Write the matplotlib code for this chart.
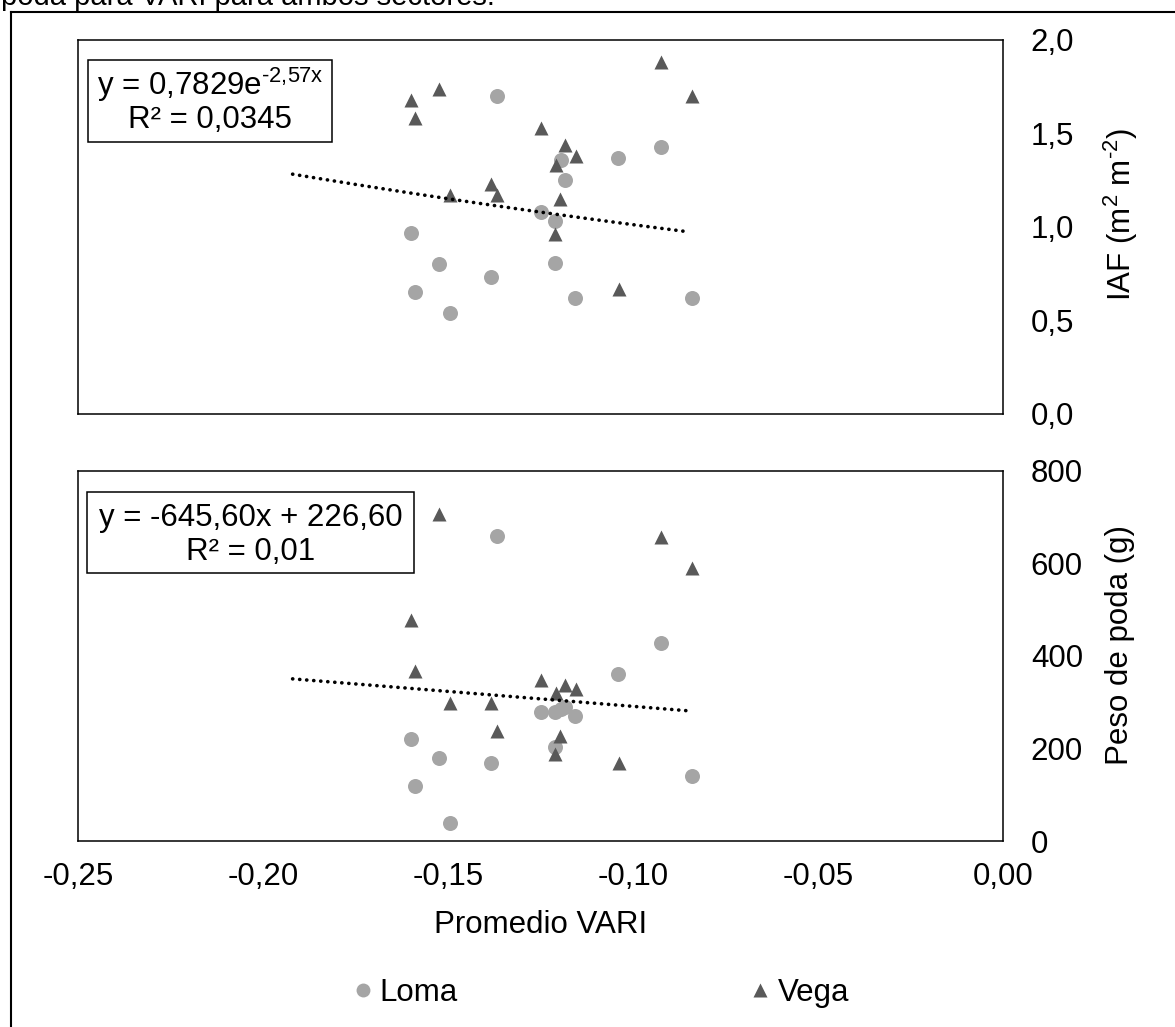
import numpy as np
import matplotlib
matplotlib.use('Agg')
import matplotlib.pyplot as plt
from matplotlib.lines import Line2D
from matplotlib.patches import Rectangle
from matplotlib.ticker import FuncFormatter

plt.rcParams['font.family'] = ['Liberation Sans', 'DejaVu Sans']
plt.rcParams['mathtext.fontset'] = 'custom'
plt.rcParams['mathtext.rm'] = 'Liberation Sans'
plt.rcParams['mathtext.it'] = 'Liberation Sans:italic'
plt.rcParams['mathtext.bf'] = 'Liberation Sans:bold'

# data
loma_vari = [-0.1368, -0.0925, -0.1040, -0.1195, -0.1183, -0.1248, -0.1210, -0.1599,
             -0.1523, -0.1212, -0.1385, -0.1588, -0.1156, -0.0840, -0.1494]
loma_iaf = [1.70, 1.43, 1.37, 1.36, 1.25, 1.08, 1.03, 0.97, 0.80, 0.81, 0.73, 0.65, 0.62, 0.62, 0.54]
loma_poda = [660, 429, 361, 285, 289, 280, 280, 220, 180, 203, 169, 119, 270, 140, 40]

vega_vari = [-0.0925, -0.1523, -0.0840, -0.1599, -0.1588, -0.1248, -0.1183, -0.1154,
             -0.1209, -0.1385, -0.1494, -0.1368, -0.1197, -0.1212, -0.1039]
vega_iaf = [1.88, 1.74, 1.70, 1.68, 1.58, 1.53, 1.44, 1.38, 1.33, 1.23, 1.17, 1.17, 1.15, 0.96, 0.67]
vega_poda = [658, 708, 590, 478, 368, 348, 337, 328, 319, 298, 298, 238, 227, 188, 168]

# trendlines (Excel), drawn over this x range
trend_range = [-0.192, -0.0855]
iaf_a, iaf_b = 0.7829, -2.57        # y = a*exp(b*x)
poda_m, poda_c = -645.60, 226.60    # y = m*x + c

loma_color = '#A5A5A5'
vega_color = '#595959'
fs = 22.5

fig = plt.figure(figsize=(11.75, 10.27), dpi=100)

ax1 = fig.add_axes([0.0664, 0.5969, 0.7872, 0.3642])
ax2 = fig.add_axes([0.0664, 0.1811, 0.7872, 0.3603])

ax1.plot(loma_vari, loma_iaf, 'o', color=loma_color, ms=10.8, mec='none')
ax1.plot(vega_vari, vega_iaf, '^', color=vega_color, ms=10.5, mec='none')
ax2.plot(loma_vari, loma_poda, 'o', color=loma_color, ms=10.8, mec='none')
ax2.plot(vega_vari, vega_poda, '^', color=vega_color, ms=10.5, mec='none')

tx = np.linspace(trend_range[0], trend_range[1], 100)
ax1.plot(tx, iaf_a * np.exp(iaf_b * tx), color='black', lw=2.6,
         linestyle=(0, (0.05, 1.9)), dash_capstyle='round')
ax2.plot(tx, poda_m * tx + poda_c, color='black', lw=2.6,
         linestyle=(0, (0.05, 1.9)), dash_capstyle='round')

for ax in (ax1, ax2):
    ax.set_xlim(-0.25, 0)
    ax.set_xticks([-0.25, -0.20, -0.15, -0.10, -0.05, 0.0])
    ax.yaxis.tick_right()
    ax.tick_params(axis='y', length=0, pad=20, labelsize=fs)
    ax.tick_params(axis='x', length=0, pad=15, labelsize=fs)
    for s in ax.spines.values():
        s.set_linewidth(1.1)
        s.set_color('black')

ax1.set_ylim(0, 2)
ax1.set_yticks([0, 0.5, 1.0, 1.5, 2.0])
ax1.yaxis.set_major_formatter(FuncFormatter(lambda v, p: f'{v:.1f}'.replace('.', ',')))
ax1.tick_params(axis='x', labelbottom=False)

ax2.set_ylim(0, 800)
ax2.set_yticks([0, 200, 400, 600, 800])
ax2.yaxis.set_major_formatter(FuncFormatter(lambda v, p: f'{v:.0f}'))
ax2.xaxis.set_major_formatter(FuncFormatter(lambda v, p: f'{v:.2f}'.replace('.', ',')))

ax1.set_ylabel(r'IAF (m$^{\mathregular{2}}$ m$^{\mathregular{‐2}}$)', fontsize=fs)
ax1.yaxis.set_label_position('right')
ax1.yaxis.label.set_va('center')
ax1.yaxis.set_label_coords(1.127, 0.532)

ax2.set_ylabel('Peso de poda (g)', fontsize=fs)
ax2.yaxis.set_label_position('right')
ax2.yaxis.label.set_va('center')
ax2.yaxis.set_label_coords(1.127, 0.53)

ax2.set_xlabel('Promedio VARI', fontsize=fs)
ax2.xaxis.label.set_va('center')
ax2.xaxis.set_label_coords(0.5, -0.227)

# equation boxes
ax1.add_patch(Rectangle((0.0108, 0.727), 0.2638, 0.2195, transform=ax1.transAxes,
                        fill=False, edgecolor='black', lw=1.1))
ax1.text(0.1427, 0.8797, r'y = 0,7829e$^{\mathregular{‐2{,}57x}}$', transform=ax1.transAxes,
         ha='center', va='center', fontsize=fs)
ax1.text(0.1427, 0.786, 'R² = 0,0345', transform=ax1.transAxes,
         ha='center', va='center', fontsize=fs)

ax2.add_patch(Rectangle((0.0096, 0.7235), 0.354, 0.2205, transform=ax2.transAxes,
                        fill=False, edgecolor='black', lw=1.1))
ax2.text(0.1866, 0.872, 'y = -645,60x + 226,60', transform=ax2.transAxes,
         ha='center', va='center', fontsize=fs)
ax2.text(0.1866, 0.782, 'R² = 0,01', transform=ax2.transAxes,
         ha='center', va='center', fontsize=fs)

# legend
handles = [Line2D([], [], marker='o', ls='none', color=loma_color, mec='none', ms=10, label='Loma'),
           Line2D([], [], marker='^', ls='none', color=vega_color, mec='none', ms=9.5, label='Vega')]
fig.legend(handles=handles, loc='center', bbox_to_anchor=(0.512, 0.0331), ncol=2,
           frameon=False, handlelength=0.55, handletextpad=0.27, columnspacing=9.4,
           fontsize=fs)

# outer frame of the embedded chart and the cut-off caption above it
fig.add_artist(Line2D([0.0094, 0.0094], [0, 0.9883], color='black', lw=1.5))
fig.add_artist(Line2D([0.0094, 1.0], [0.9883, 0.9883], color='black', lw=1.5))
fig.text(0.001, 1 - 5 / 1027, 'poda para VARI para ambos sectores.', ha='left',
         va='baseline', fontsize=21)

fig.savefig('out.png', dpi=100)
